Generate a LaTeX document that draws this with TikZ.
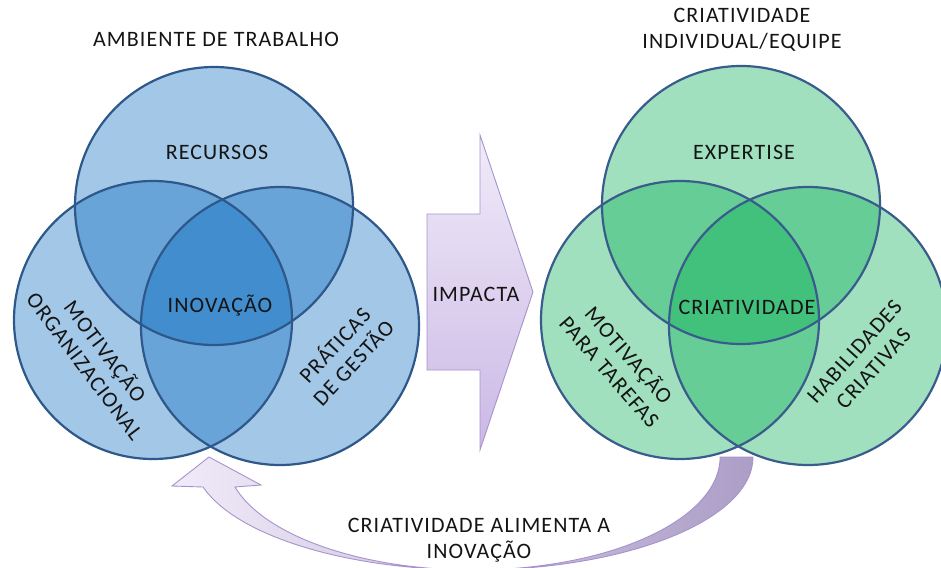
\documentclass[tikz,border=0pt]{standalone}
\usepackage{fontspec}
\setmainfont{Carlito}
\newfontfamily\lblfont[LetterSpace=5]{Carlito}
\begin{document}
\begin{tikzpicture}[x=1pt,y=-1pt]
\definecolor{vblue}{RGB}{0,102,191}
\definecolor{vgreen}{RGB}{11,176,88}
\definecolor{vline}{RGB}{47,88,138}
\definecolor{gline}{RGB}{58,92,140}
\definecolor{arrline}{RGB}{168,146,206}
\definecolor{arrtop}{RGB}{240,235,249}
\definecolor{arrbot}{RGB}{203,184,229}
\definecolor{arrmid}{RGB}{210,195,236}
\definecolor{arrend}{RGB}{172,158,198}
\tikzset{
  lbl/.style={font=\lblfont\fontsize{22}{25.5}\selectfont, text=black!92, align=center, inner sep=0pt},
  bluefill/.style={fill=vblue, fill opacity=0.36},
  greenfill/.style={fill=vgreen, fill opacity=0.39},
  blueline/.style={draw=vline, line width=2.2pt},
  greenline/.style={draw=gline, line width=2.2pt},
  arrowshape/.style={draw=arrline, line width=0.9pt, line join=miter},
}
\useasboundingbox (0,0) rectangle (941,567);
\fill[white] (0,0) rectangle (941,567);
\clip (0,0) rectangle (941,567);

% centres
\coordinate (lt) at (214,206);
\coordinate (ll) at (153,320);
\coordinate (lr) at (280,326);
\coordinate (rt) at (741,205);
\coordinate (rl) at (680,320);
\coordinate (rr) at (808,326);

% left Venn
\foreach \c in {lt,ll,lr} \fill[bluefill] (\c) circle[radius=139];
\foreach \c in {lt,ll,lr} \draw[blueline] (\c) circle[radius=139];
% right Venn
\foreach \c in {rt,rl,rr} \fill[greenfill] (\c) circle[radius=139];
\foreach \c in {rt,rl,rr} \draw[greenline] (\c) circle[radius=139];

% IMPACTA arrow
\path[arrowshape, top color=arrtop, bottom color=arrbot]
  (427,214) -- (480,214) -- (480,135) -- (533,292) -- (480,450) -- (480,370) -- (427,370) -- cycle;

% curved feedback arrow
\path[arrowshape, left color=arrtop, middle color=arrmid, right color=arrend]
  (753,457) arc[start angle=0, end angle=164.6, x radius=280, y radius=113]
  -- (172,486) -- (209,457) -- (261,485) -- (235,487)
  arc[start angle=164.6, end angle=0, x radius=247, y radius=113]
  -- cycle;

% texts
\node[lbl] (title1) at (216,39) {AMBIENTE DE TRABALHO};
\node[lbl] (title2) at (742,30) {CRIATIVIDADE\\INDIVIDUAL/EQUIPE};
\node[lbl] (recursos) at (217,152) {RECURSOS};
\node[lbl] (inovacao) at (220,306) {INOVAÇÃO};
\node[lbl, rotate=-53] (motorg) at (96,358) {MOTIVAÇÃO\\ORGANIZACIONAL};
\node[lbl, rotate=47] (praticas) at (343,353) {PRÁTICAS\\DE GESTÃO};
\node[lbl] (expertise) at (744,152) {EXPERTISE};
\node[lbl] (criat) at (747,307) {CRIATIVIDADE};
\node[lbl, rotate=-49] (mottar) at (620,363) {MOTIVAÇÃO\\PARA TAREFAS};
\node[lbl, rotate=48] (habil) at (864,360) {HABILIDADES\\CRIATIVAS};
\node[lbl] (impacta) at (476,294) {IMPACTA};
\node[lbl] (alimenta) at (479,540) {CRIATIVIDADE ALIMENTA A\\INOVAÇÃO};
\end{tikzpicture}
\end{document}
